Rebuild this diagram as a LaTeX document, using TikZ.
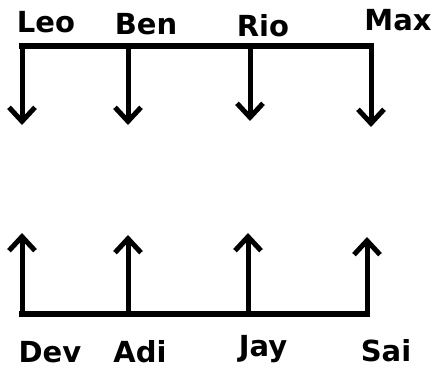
\documentclass[tikz,border=0pt]{standalone}
\usepackage{fontspec}
\setmainfont{DejaVu Sans}
\usetikzlibrary{arrows.meta}
\begin{document}
\begin{tikzpicture}[x=1pt,y=-1pt,
  bar/.style={line width=6pt,line cap=rect},
  arr/.style={line width=5pt,-{Straight Barb[length=14pt,width=26pt,line width=5pt]}},
  lbl/.style={font=\fontsize{29}{34}\selectfont\bfseries,inner sep=0pt}]
\useasboundingbox (0,0) rectangle (435,369);
% top
\coordinate (t1) at (22,46);
\coordinate (t2) at (128,46);
\coordinate (t3) at (250,46);
\coordinate (t4) at (371,46);
\coordinate (a1) at (22,125);
\coordinate (a2) at (128,125);
\coordinate (a3) at (250,121);
\coordinate (a4) at (371,127);
\draw[bar] (t1) -- (t4);
\foreach \i in {1,...,4} \draw[arr] (t\i) -- (a\i);
\node[lbl] (leo) at (46,22) {Leo};
\node[lbl] (ben) at (146,24) {Ben};
\node[lbl] (rio) at (263,26) {Rio};
\node[lbl] (max) at (398,20) {Max};
% bottom
\coordinate (b1) at (22,314);
\coordinate (b2) at (128,314);
\coordinate (b3) at (248,314);
\coordinate (b4) at (367,314);
\coordinate (c1) at (22,233);
\coordinate (c2) at (128,235);
\coordinate (c3) at (248,233);
\coordinate (c4) at (367,237);
\draw[bar] (b1) -- (b4);
\foreach \i in {1,...,4} \draw[arr] (b\i) -- (c\i);
\node[lbl] (dev) at (50,352) {Dev};
\node[lbl] (adi) at (140,352) {Adi};
\node[lbl] (jay) at (263,349) {Jay};
\node[lbl] (sai) at (386,351) {Sai};
\end{tikzpicture}
\end{document}
